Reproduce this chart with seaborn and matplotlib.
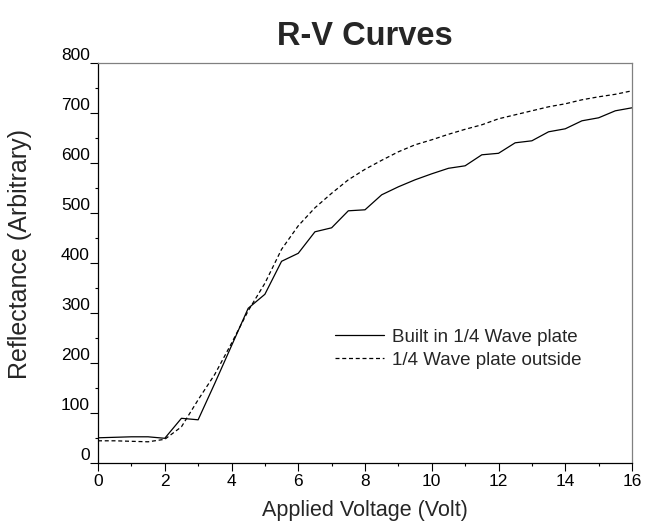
import numpy as np
import pandas as pd
import matplotlib
matplotlib.use("Agg")
import matplotlib.pyplot as plt
import seaborn as sns
from matplotlib.ticker import MultipleLocator

voltage = [0.0, 0.5, 1.0, 1.5, 2.0, 2.5, 3.0, 3.5, 4.0, 4.5, 5.0, 5.5, 6.0, 6.5, 7.0, 7.5,
           8.0, 8.5, 9.0, 9.5, 10.0, 10.5, 11.0, 11.5, 12.0, 12.5, 13.0, 13.5, 14.0, 14.5,
           15.0, 15.5, 16.0]
built_in = [51, 52, 53, 53, 50, 90, 87, 160, 235, 310, 338, 404, 420, 463, 471, 505,
            507, 537, 553, 567, 579, 590, 595, 617, 620, 641, 645, 663, 669, 685,
            691, 705, 711]
outside = [45, 45, 44, 43, 48, 73, 127, 178, 240, 305, 360, 428, 475, 511, 540, 567,
           588, 606, 623, 637, 647, 658, 668, 677, 689, 697, 705, 713, 719, 727,
           733, 738, 745]
series_names = ["Built in 1/4 Wave plate", "1/4 Wave plate outside"]
title = "R-V Curves"
xlabel = "Applied Voltage (Volt)"
ylabel = "Reflectance (Arbitrary)"

df = pd.DataFrame({
    "V": voltage * 2,
    "R": built_in + outside,
    "series": [series_names[0]] * len(voltage) + [series_names[1]] * len(voltage),
})

sns.set_theme(style="white")
plt.rcParams["font.family"] = ["Liberation Sans", "DejaVu Sans"]

fig = plt.figure(figsize=(6.46, 5.27), dpi=100)
ax = fig.add_axes([98 / 646, 1 - 463.3 / 527, (632 - 98) / 646, (463.3 - 63.3) / 527])

sns.lineplot(data=df, x="V", y="R", hue="series", style="series",
             palette=["black", "black"], dashes={series_names[0]: "", series_names[1]: (3.2, 2.2)},
             linewidth=0.9, ax=ax, legend=True)

ax.set_xlim(0, 16)
ax.set_ylim(0, 800)
ax.xaxis.set_major_locator(MultipleLocator(2))
ax.xaxis.set_minor_locator(MultipleLocator(1))
ax.yaxis.set_major_locator(MultipleLocator(100))
ax.yaxis.set_minor_locator(MultipleLocator(50))
ax.tick_params(axis="both", which="both", direction="out", colors="black",
               bottom=True, left=True, top=False, right=False, width=0.8)
ax.tick_params(axis="x", which="major", length=5.5, labelsize=12.5, pad=2)
ax.tick_params(axis="x", which="minor", length=2.5)
ax.tick_params(axis="y", which="major", length=5.8, labelsize=12.5, pad=0)
ax.tick_params(axis="y", which="minor", length=2.5)
for lab in ax.get_yticklabels():
    lab.set_verticalalignment("bottom")

for side in ["left", "bottom"]:
    ax.spines[side].set_color("black")
    ax.spines[side].set_linewidth(0.9)
for side in ["top", "right"]:
    ax.spines[side].set_color("#808080")
    ax.spines[side].set_linewidth(0.9)

ax.set_xlabel(xlabel, fontsize=15.5, labelpad=8)
ax.set_ylabel(ylabel, fontsize=18)
ax.yaxis.set_label_coords(-0.1236, 0.523)
ax.set_title(title, fontsize=23.5, fontweight="bold", pad=13)

leg = ax.legend(loc="upper left", bbox_to_anchor=(0.43, 0.355), frameon=False,
                fontsize=13.5, handlelength=2.6, handletextpad=0.45, labelspacing=0.3,
                borderaxespad=0)

fig.savefig("out.png", dpi=100, facecolor="white")
